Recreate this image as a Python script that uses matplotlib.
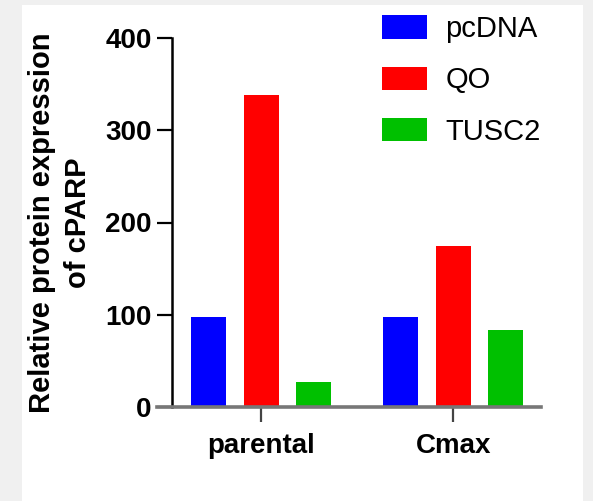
import matplotlib

matplotlib.use("Agg")
import matplotlib.pyplot as plt
import numpy as np
from matplotlib.patches import Rectangle

plt.rcParams["font.family"] = ["Liberation Sans", "DejaVu Sans"]
plt.rcParams["font.weight"] = "bold"  # axis text is bold, legend is set back to normal

groups = ["parental", "Cmax"]
series_names = ["pcDNA", "QO", "TUSC2"]
pcdna = [98, 98]
qo = [338, 174]
tusc2 = [27, 84]
colors = ["#0000ff", "#ff0000", "#00c000"]
yticks = [0, 100, 200, 300, 400]

W, H = 593, 501
fig = plt.figure(figsize=(W / 100, H / 100), dpi=100, facecolor="#f0f0f0")
# white panel behind the chart
fig.add_artist(Rectangle((22 / W, 0), (583 - 22) / W, (501 - 5) / H,
                         transform=fig.transFigure, facecolor="white",
                         edgecolor="none", zorder=-5))

ax = fig.add_axes([157 / W, (H - 407) / H, 384 / W, 369 / H])
ax.set_facecolor("none")

x = np.arange(len(groups))
offset = 0.273
width = 0.182
for i, (vals, name, c) in enumerate(zip([pcdna, qo, tusc2], series_names, colors)):
    ax.bar(x + (i - 1) * offset, vals, width=width, color=c, label=name, zorder=2)

ax.set_xlim(-0.542, 1.456)
ax.set_ylim(0, 400)
ax.set_yticks(yticks)
ax.set_xticks(x, groups)
ax.tick_params(axis="y", length=11, width=1.6, pad=3.5, color="black", labelsize=20)
ax.tick_params(axis="x", length=11, width=1.6, pad=8, color="#444444", labelsize=20)

for s in ("top", "right"):
    ax.spines[s].set_visible(False)
ax.spines["left"].set_position(("axes", 15 / 384))
ax.spines["left"].set_linewidth(1.8)
ax.spines["bottom"].set_color("#777777")
ax.spines["bottom"].set_linewidth(2.6)
ax.spines["bottom"].set_zorder(3)

# two-line y label, lines sit at about x=40 and x=80 px
fig.text(60 / W, 1 - 223 / H, "Relative protein expression\nof cPARP", rotation=90,
         ha="center", va="center", fontsize=21, fontweight="bold",
         linespacing=1.35, multialignment="center")

ax.legend(loc="upper left", bbox_to_anchor=(382 / W, 1 - 15 / H),
          bbox_transform=fig.transFigure, frameon=False,
          prop={"size": 21, "weight": "normal"},
          handlelength=1.55, handleheight=0.85, handletextpad=0.62,
          labelspacing=0.8, borderpad=0, borderaxespad=0)

fig.savefig("out.png", dpi=100, facecolor=fig.get_facecolor())
